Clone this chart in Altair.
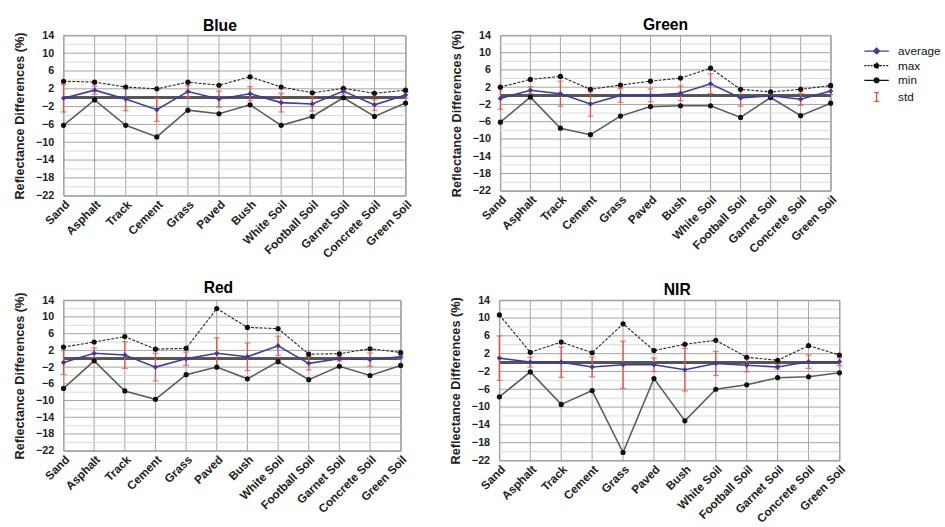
import altair as alt
import pandas as pd

# Surface types along the x axis
categories = ["Sand", "Asphalt", "Track", "Cement", "Grass", "Paved", "Bush",
              "White Soil", "Football Soil", "Garnet Soil", "Concrete Soil", "Green Soil"]

# Reflectance differences (%) per band: average, maximum, minimum and standard deviation
blue_avg = [-0.1, 1.7, -0.3, -2.7, 1.4, -0.3, 0.9, -1.1, -1.4, 1.5, -1.6, 0.6]
blue_max = [3.7, 3.5, 2.4, 2.0, 3.5, 2.8, 4.7, 2.4, 1.1, 2.1, 1.0, 1.7]
blue_min = [-6.2, -0.5, -6.2, -8.8, -2.8, -3.6, -1.6, -6.2, -4.2, 0.0, -4.2, -1.2]
blue_std = [3.1, 0.9, 2.6, 2.6, 1.3, 1.8, 1.6, 2.1, 1.6, 0.7, 1.2, 0.7]

green_avg = [-0.6, 1.3, 0.5, -1.9, 0.1, 0.1, 0.6, 2.8, -0.5, 0.0, -0.8, 1.1]
green_max = [2.0, 3.8, 4.5, 1.5, 2.5, 3.4, 4.1, 6.4, 1.5, 0.9, 1.5, 2.4]
green_min = [-6.1, -0.3, -7.5, -9.0, -4.7, -2.5, -2.3, -2.3, -5.0, -0.4, -4.6, -1.7]
green_std = [2.5, 0.8, 2.9, 2.8, 1.6, 1.5, 1.7, 2.3, 1.9, 0.3, 1.4, 0.8]

red_avg = [-0.9, 1.3, 0.9, -2.0, 0.0, 1.3, 0.5, 3.1, -1.1, 0.0, -0.2, 0.5]
red_max = [2.8, 4.0, 5.3, 2.3, 2.5, 12.0, 7.5, 7.2, 1.1, 1.2, 2.4, 1.5]
red_min = [-7.1, -0.5, -7.7, -9.7, -3.8, -2.0, -4.8, -0.7, -5.0, -1.8, -4.0, -1.6]
red_std = [2.9, 1.3, 3.2, 3.3, 1.6, 3.7, 3.3, 2.3, 1.6, 0.5, 1.6, 0.5]

nir_avg = [1.0, 0.1, 0.1, -1.0, -0.5, -0.5, -1.6, -0.2, -0.6, -1.0, 0.2, 0.2]
nir_max = [10.7, 2.3, 4.6, 2.2, 8.7, 2.7, 4.1, 5.0, 1.2, 0.5, 3.8, 1.7]
nir_min = [-7.7, -2.1, -9.4, -6.3, -20.2, -3.6, -13.1, -6.0, -5.0, -3.4, -3.2, -2.3]
nir_std = [5.0, 1.1, 3.4, 2.2, 5.3, 1.5, 4.8, 2.7, 1.5, 0.5, 1.5, 0.9]

# Labelled y ticks and the lighter in-between grid levels
y_major = [14, 10, 6, 2, -2, -6, -10, -14, -18, -22]
y_minor = [12, 8, 4, -4, -8, -12, -16, -20]
y_domain = [-22, 14]

series_names = ["average", "max", "min", "std"]
series_colors = ["#3a3aaa", "#111111", "#111111", "#ee4b3a"]

FONT = "Liberation Sans"
AVG_COLOR = "#3a3aaa"
STD_COLOR = "#ee4b3a"
GRID_MAJOR = "#a2a2a2"
GRID_MINOR = "#d9d9d9"

# Legend symbols: a short line with a marker, and an error-bar glyph
LINE_DOT = "M-2.5,0L2.5,0M-0.5,0A0.5,0.5,0,1,1,0.5,0A0.5,0.5,0,1,1,-0.5,0Z"
LINE_DIAMOND = "M-2.5,0L2.5,0M0,-0.6L0.6,0L0,0.6L-0.6,0Z"
ERR_BAR = "M-0.5,-0.9L0.5,-0.9M0,-0.9L0,0.9M-0.5,0.9L0.5,0.9"


def panel(title, avg, mx, mn, sd, width, height, title_dx, with_legend=False):
    df = pd.DataFrame({"category": categories, "average": avg, "max": mx,
                       "min": mn, "std": sd})
    base = alt.Chart(df)

    x = alt.X("category:N", sort=categories,
              scale=alt.Scale(type="point", padding=0),
              axis=alt.Axis(title=None, labelAngle=-45, labelPadding=3, grid=False,
                            labelFontSize=12))
    yscale = alt.Scale(domain=y_domain, nice=False, zero=False)
    yaxis = alt.Axis(title="Reflectance Differences (%)", values=y_major,
                     tickCount=len(y_major) + 2, labelOverlap=False, grid=False,
                     labelPadding=10, titlePadding=9)

    def y(field):
        return alt.Y(field, scale=yscale, axis=yaxis)

    # grid
    v_grid = base.mark_rule(color=GRID_MAJOR, strokeWidth=1).encode(x=x)
    h_minor = alt.Chart(pd.DataFrame({"level": y_minor})).mark_rule(
        color=GRID_MINOR, strokeWidth=1).encode(y=y("level:Q"))
    h_major = alt.Chart(pd.DataFrame({"level": y_major})).mark_rule(
        color=GRID_MAJOR, strokeWidth=1).encode(y=y("level:Q"))
    zero = base.mark_rule(color="#555555", strokeWidth=2).encode(y=alt.datum(0))

    line_max = base.mark_line(color="#222222", strokeWidth=1.1,
                              strokeDash=[3, 1.5]).encode(x=x, y=y("max:Q"))
    line_min = base.mark_line(color="#5a5a5a", strokeWidth=1.6).encode(x=x, y=y("min:Q"))

    err = base.transform_calculate(
        lo="datum.average - datum.std", hi="datum.average + datum.std")
    err_rule = err.mark_rule(color=STD_COLOR, strokeWidth=1.3).encode(
        x=x, y=y("lo:Q"), y2="hi:Q")
    cap_lo = err.mark_tick(color=STD_COLOR, size=6, thickness=1.3).encode(x=x, y=y("lo:Q"))
    cap_hi = err.mark_tick(color=STD_COLOR, size=6, thickness=1.3).encode(x=x, y=y("hi:Q"))

    line_avg = base.mark_line(color=AVG_COLOR, strokeWidth=1.6).encode(x=x, y=y("average:Q"))

    pt_max = base.mark_point(filled=True, color="#111111", size=28, opacity=1).encode(
        x=x, y=y("max:Q"))
    pt_min = base.mark_point(filled=True, color="#111111", size=28, opacity=1).encode(
        x=x, y=y("min:Q"))
    pt_avg = base.mark_point(filled=True, color=AVG_COLOR, shape="diamond", size=30,
                             opacity=1).encode(x=x, y=y("average:Q"))

    layers = [v_grid, h_minor, h_major, line_max, line_min, zero, err_rule, cap_lo,
              cap_hi, line_avg, pt_max, pt_min, pt_avg]

    if with_legend:
        leg = alt.Legend(title=None, orient="right", offset=13, padding=10,
                         symbolSize=100, symbolStrokeWidth=1.3, symbolOpacity=1,
                         labelFont=FONT, labelFontSize=12, labelOffset=16,
                         rowPadding=3, labelColor="#111111")
        legend_layer = base.transform_fold(
            series_names, as_=["series", "value"]
        ).mark_point(opacity=0).encode(
            x=x, y=y("value:Q"),
            fill=alt.Fill("series:N", legend=leg,
                          scale=alt.Scale(domain=series_names, range=series_colors)),
            stroke=alt.Stroke("series:N", legend=leg,
                              scale=alt.Scale(domain=series_names, range=series_colors)),
            shape=alt.Shape("series:N", legend=leg,
                            scale=alt.Scale(domain=series_names,
                                            range=[LINE_DIAMOND, LINE_DOT, LINE_DOT, ERR_BAR])),
            strokeDash=alt.StrokeDash("series:N", legend=leg,
                                      scale=alt.Scale(domain=series_names,
                                                      range=[[1, 0], [2, 1.2], [1, 0], [1, 0]])),
        )
        layers.append(legend_layer)

    return alt.layer(*layers).properties(
        width=width, height=height,
        title=alt.TitleParams(title, fontSize=16, fontWeight="bold", font=FONT,
                              offset=-4, dx=title_dx, anchor="middle", frame="group"))


blue = panel("Blue", blue_avg, blue_max, blue_min, blue_std, 350, 164, -15)
green = panel("Green", green_avg, green_max, green_min, green_std, 338, 159, 0,
              with_legend=True)
red = panel("Red", red_avg, red_max, red_min, red_std, 345, 154, -14)
nir = panel("NIR", nir_avg, nir_max, nir_min, nir_std, 348, 164, 8)

chart = alt.vconcat(
    alt.hconcat(blue, green, spacing=36),
    alt.hconcat(red, nir, spacing=40),
    spacing=19,
).properties(
    padding={"left": 13, "top": 11, "right": -6, "bottom": 3}
).configure(
    font=FONT,
).configure_view(
    stroke="#8a8a8a", strokeWidth=1
).configure_axis(
    labelFont=FONT, labelFontSize=11, labelFontWeight="bold", labelColor="#222222",
    titleFont=FONT, titleFontSize=13, titleFontWeight="bold", titleColor="#222222",
    domain=False, ticks=False,
)

chart.save("out.html", embed_options={"renderer": "svg", "actions": False})
